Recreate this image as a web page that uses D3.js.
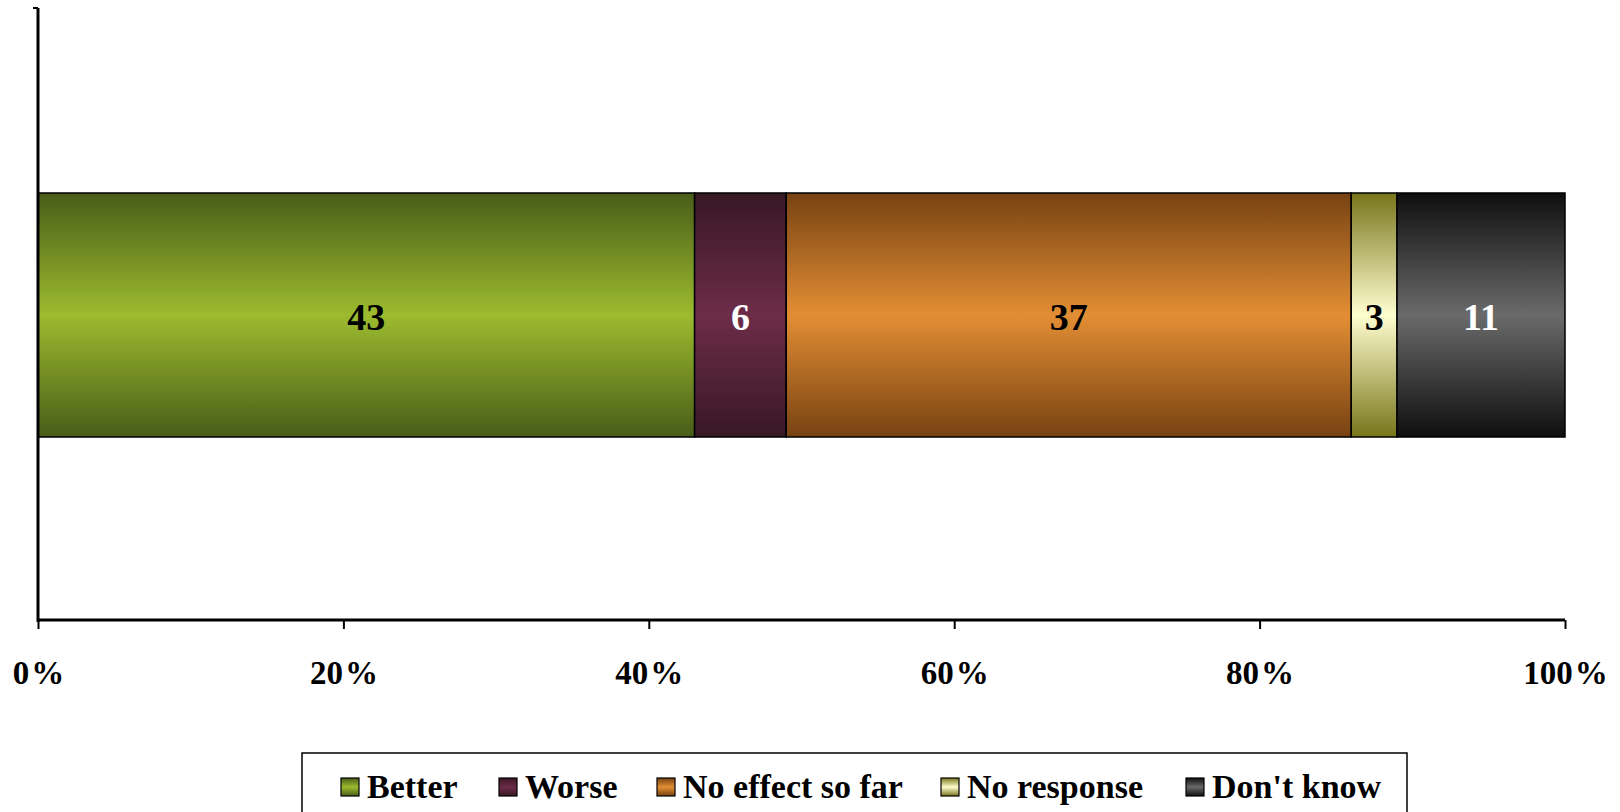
<!DOCTYPE html>
<html><head><meta charset="utf-8">
<script src="https://cdn.jsdelivr.net/npm/d3@7"></script>
<style>
html,body{margin:0;padding:0;background:#fff;}
svg{display:block;font-family:"Liberation Serif","Times New Roman",serif;font-weight:bold;}
</style></head>
<body>
<svg id="chart" width="1620" height="812"></svg>
<script>
const categories = ["Better", "Worse", "No effect so far", "No response", "Don't know"];
const values = [43, 6, 37, 3, 11];
const tickValues = [0, 20, 40, 60, 80, 100];
const tickLabels = ["0%", "20%", "40%", "60%", "80%", "100%"];
const edgeColors = ["#495d19", "#381824", "#774212", "#78751a", "#0f0f0f"];
const midColors = ["#9cbb2e", "#6d2c48", "#e38e34", "#fffed0", "#6a6a6a"];
const labelColors = ["#000", "#fff", "#000", "#000", "#fff"];

const FONT = '"Liberation Serif","Times New Roman",serif';
const svg = d3.select("#chart");
const x = d3.scaleLinear().domain([0, 100]).range([38, 1565]);

const defs = svg.append("defs");
categories.forEach((c, i) => {
  const g = defs.append("linearGradient").attr("id", "g" + i)
    .attr("x1", 0).attr("y1", 0).attr("x2", 0).attr("y2", 1);
  g.append("stop").attr("offset", "0%").attr("stop-color", edgeColors[i]);
  g.append("stop").attr("offset", "50%").attr("stop-color", midColors[i]);
  g.append("stop").attr("offset", "100%").attr("stop-color", edgeColors[i]);
});

const row = {}; categories.forEach((c, i) => row[c] = values[i]);
const stack = d3.stack().keys(categories)([row]);

const barTop = 193, barBottom = 437;
const segs = svg.append("g");
stack.forEach((s, i) => {
  const d = s[0];
  segs.append("rect")
    .attr("x", x(d[0])).attr("y", barTop)
    .attr("width", x(d[1]) - x(d[0])).attr("height", barBottom - barTop)
    .attr("fill", `url(#g${i})`).attr("stroke", "#000").attr("stroke-width", 1.5);
  svg.append("text")
    .attr("x", (x(d[0]) + x(d[1])) / 2).attr("y", 330)
    .attr("text-anchor", "middle").attr("font-size", 38)
    .attr("fill", labelColors[i]).text(values[i]);
});

// axes
const xAxis = d3.axisBottom(x).tickValues(tickValues).tickSize(9).tickFormat("");
const gx = svg.append("g").attr("transform", "translate(0,620)").call(xAxis)
  .attr("font-family", FONT).attr("font-weight", "bold");
gx.select(".domain").attr("stroke", "#000").attr("stroke-width", 3).attr("d", `M${x(0)},0H${x(100)}`);
gx.selectAll(".tick line").attr("stroke", "#000").attr("stroke-width", 2);
gx.selectAll(".tick").append("text")
  .attr("y", 64).attr("text-anchor", "middle").attr("font-size", 33).attr("fill", "#000")
  .attr("font-family", FONT)
  .each(function(d, i) {
    const t = d3.select(this);
    const lab = tickLabels[i];
    t.append("tspan").text(lab.slice(0, -1));
    t.append("tspan").attr("dx", 2).text(lab.slice(-1));
  });

svg.append("line").attr("x1", 38).attr("x2", 38).attr("y1", 8).attr("y2", 622)
  .attr("stroke", "#000").attr("stroke-width", 3);
svg.append("line").attr("x1", 33).attr("x2", 38).attr("y1", 8).attr("y2", 8)
  .attr("stroke", "#000").attr("stroke-width", 2);

// legend
const lg = svg.append("g");
lg.append("rect").attr("x", 302).attr("y", 753).attr("width", 1105).attr("height", 80)
  .attr("fill", "#fff").attr("stroke", "#000").attr("stroke-width", 1.5);
const legX = [341, 499, 657, 941, 1186];
categories.forEach((c, i) => {
  lg.append("rect").attr("x", legX[i]).attr("y", 778).attr("width", 18).attr("height", 18)
    .attr("fill", `url(#g${i})`).attr("stroke", "#000").attr("stroke-width", 1.2);
  lg.append("text").attr("x", legX[i] + 26).attr("y", 798).attr("font-size", 34)
    .attr("fill", "#000").text(c);
});
</script>
</body></html>
